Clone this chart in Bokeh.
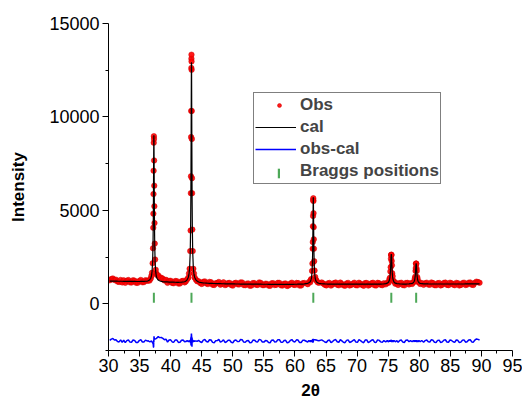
import numpy as np
from bokeh.plotting import figure
from bokeh.models import FixedTicker, Legend, LegendItem
from bokeh.embed import file_html
from bokeh.resources import INLINE

# ---- background regions (2theta, calculated, observed) ----
bg_theta = [30.2, 30.45, 30.7, 30.95, 31.2, 31.45, 31.7, 31.95, 32.2, 32.45, 32.7, 32.95, 33.2,
            33.45, 33.7, 33.95, 34.2, 34.45, 34.7, 34.95, 35.2, 35.45, 35.7, 35.95, 36.2,
            38.5, 38.75, 39.0, 39.25, 39.5, 39.75, 40.0, 40.25, 40.5, 40.75, 41.0, 41.25, 41.5,
            41.75, 42.0, 42.25,
            44.5, 44.75, 45.0, 45.25, 45.5, 45.75, 46.0, 46.25, 46.5, 46.75, 47.0, 47.25, 47.5,
            47.75, 48.0, 48.25, 48.5, 48.75, 49.0, 49.25, 49.5, 49.75, 50.0, 50.25, 50.5, 50.75,
            51.0, 51.25, 51.5, 51.75, 52.0, 52.25, 52.5, 52.75, 53.0, 53.25, 53.5, 53.75, 54.0,
            54.25, 54.5, 54.75, 55.0, 55.25, 55.5, 55.75, 56.0, 56.25, 56.5, 56.75, 57.0, 57.25,
            57.5, 57.75, 58.0, 58.25, 58.5, 58.75, 59.0, 59.25, 59.5, 59.75, 60.0, 60.25, 60.5,
            60.75, 61.0, 61.25, 61.5,
            64.3, 64.55, 64.8, 65.05, 65.3, 65.55, 65.8, 66.05, 66.3, 66.55, 66.8, 67.05, 67.3,
            67.55, 67.8, 68.05, 68.3, 68.55, 68.8, 69.05, 69.3, 69.55, 69.8, 70.05, 70.3, 70.55,
            70.8, 71.05, 71.3, 71.55, 71.8, 72.05, 72.3, 72.55, 72.8, 73.05, 73.3, 73.55, 73.8,
            74.05, 74.3,
            76.6, 76.85, 77.1, 77.35, 77.6, 77.85, 78.1, 78.35,
            80.7, 80.95, 81.2, 81.45, 81.7, 81.95, 82.2, 82.45, 82.7, 82.95, 83.2, 83.45, 83.7,
            83.95, 84.2, 84.45, 84.7, 84.95, 85.2, 85.45, 85.7, 85.95, 86.2, 86.45, 86.7, 86.95,
            87.2, 87.45, 87.7, 87.95, 88.2, 88.45, 88.7, 88.95, 89.2, 89.45, 89.7]
bg_cal = [1215, 1214, 1212, 1211, 1210, 1208, 1207, 1206, 1205, 1203, 1202, 1201, 1200,
          1198, 1197, 1196, 1195, 1194, 1193, 1193, 1195, 1197, 1200, 1206, 1215,
          1195, 1185, 1177, 1172, 1168, 1164, 1160, 1157, 1155, 1152, 1150, 1150, 1152,
          1157, 1165, 1180,
          1165, 1145, 1130, 1120, 1112, 1106, 1100, 1096, 1092, 1088, 1085, 1082, 1080,
          1077, 1075, 1073, 1071, 1069, 1068, 1066, 1065, 1063, 1062, 1061, 1060, 1059,
          1058, 1057, 1056, 1055, 1054, 1053, 1052, 1051, 1050, 1050, 1049, 1048, 1048,
          1047, 1047, 1046, 1046, 1045, 1045, 1044, 1044, 1043, 1043, 1043, 1043, 1042,
          1042, 1042, 1042, 1042, 1042, 1042, 1042, 1042, 1043, 1044, 1045, 1046, 1048,
          1050, 1053, 1057, 1062,
          1072, 1066, 1062, 1059, 1057, 1055, 1054, 1053, 1052, 1051, 1050, 1050, 1049,
          1049, 1048, 1048, 1048, 1048, 1047, 1047, 1047, 1047, 1047, 1047, 1047, 1047,
          1047, 1047, 1048, 1048, 1048, 1049, 1049, 1050, 1050, 1051, 1052, 1054, 1056,
          1059, 1063,
          1072, 1065, 1060, 1057, 1056, 1057, 1060, 1066,
          1070, 1066, 1063, 1061, 1060, 1059, 1059, 1058, 1058, 1058, 1058, 1058, 1058,
          1058, 1058, 1058, 1058, 1058, 1058, 1058, 1059, 1059, 1059, 1059, 1060, 1060,
          1060, 1061, 1061, 1062, 1062, 1063, 1063, 1064, 1064, 1065, 1065]
bg_obs = [1260, 1324, 1352, 1271, 1290, 1188, 1167, 1276, 1145, 1253, 1122, 1231, 1270,
          1148, 1137, 1256, 1235, 1124, 1123, 1223, 1275, 1152, 1160, 1261, 1230,
          1390, 1335, 1250, 1282, 1120, 1224, 1230, 1117, 1100, 1217, 1210, 1080, 1090,
          1207, 1230, 1145,
          1205, 1115, 1060, 1175, 1197, 1086, 1055, 1171, 1152, 1023, 1005, 1102, 1110,
          1167, 1020, 1063, 1146, 999, 1033, 1111, 1115, 1003, 972, 1096, 1125, 1044,
          1033, 1142, 1136, 1005, 994, 1078, 1087, 966, 975, 1110, 1104, 1018, 1008,
          1142, 1117, 1001, 996, 1075, 1065, 974, 959, 1093, 1103, 1003, 1013, 1122,
          1117, 987, 977, 1077, 1087, 952, 987, 1082, 1128, 1024, 1005, 1116, 1108,
          975, 983, 1102, 1112,
          1142, 1086, 1017, 984, 1092, 1115, 974, 1033, 1107, 1136, 1020, 990, 1134,
          1064, 988, 968, 1088, 1118, 977, 1012, 1072, 1127, 997, 987, 1127, 1077,
          1012, 962, 1108, 1113, 973, 1024, 1094, 1125, 995, 981, 1122, 1094, 1016,
          994, 1093,
          1012, 1105, 1125, 1007, 986, 1112, 1120, 1036,
          1015, 1096, 1128, 1026, 1015, 1139, 1109, 998, 988, 1098, 1113, 983, 1018,
          1113, 1133, 1013, 998, 1128, 1093, 1028, 994, 1119, 1104, 979, 1010, 1105,
          1130, 1006, 1026, 1127, 1137, 1023, 1008, 1124, 1184, 1160, 1125]

# ---- peak regions ----
peak_theta = [36.4, 36.6, 36.8, 36.9, 37.0, 37.1, 37.16, 37.2, 37.22, 37.24, 37.26, 37.28, 37.30,
              37.32, 37.34, 37.36, 37.38, 37.40, 37.44, 37.5, 37.6, 37.7, 37.8, 38.0, 38.2,
              42.45, 42.65, 42.85, 42.95, 43.05, 43.15, 43.21, 43.25, 43.27, 43.29, 43.31, 43.33,
              43.34, 43.35, 43.36, 43.37, 43.39, 43.41, 43.43, 43.45, 43.49, 43.55, 43.65, 43.75,
              43.85, 44.05, 44.25,
              62.05, 62.25, 62.45, 62.55, 62.65, 62.75, 62.81, 62.85, 62.87, 62.89, 62.91, 62.93,
              62.95, 62.97, 62.99, 63.01, 63.03, 63.05, 63.09, 63.15, 63.25, 63.35, 63.45, 63.65,
              63.85,
              74.6, 74.85, 75.05, 75.2, 75.28, 75.35, 75.4, 75.44, 75.47, 75.5, 75.53, 75.56,
              75.6, 75.65, 75.72, 75.8, 75.95, 76.15, 76.4,
              78.6, 78.85, 79.05, 79.2, 79.28, 79.35, 79.4, 79.44, 79.47, 79.5, 79.53, 79.56,
              79.6, 79.65, 79.72, 79.8, 79.95, 80.15, 80.4]
peak_cal = [1231, 1271, 1366, 1472, 1691, 2253, 3101, 4232, 5095, 6194, 7450, 8557, 9020,
            8557, 7450, 6194, 5095, 4232, 3101, 2253, 1691, 1472, 1366, 1271, 1231,
            1222, 1282, 1425, 1584, 1913, 2757, 4030, 5728, 7025, 8676, 10562, 12224,
            12743, 12920, 12743, 12224, 10562, 8676, 7025, 5728, 4030, 2757, 1913, 1584,
            1425, 1282, 1222,
            1096, 1120, 1176, 1239, 1368, 1700, 2201, 2870, 3380, 4030, 4772, 5426,
            5700, 5426, 4772, 4030, 3380, 2870, 2201, 1700, 1368, 1239, 1176, 1120,
            1096,
            1078, 1103, 1157, 1272, 1419, 1678, 2000, 2338, 2565, 2660, 2565, 2338,
            2000, 1678, 1419, 1272, 1157, 1103, 1078,
            1074, 1092, 1129, 1208, 1309, 1488, 1710, 1943, 2100, 2165, 2100, 1943,
            1710, 1488, 1309, 1208, 1129, 1092, 1074]
peak_obs = [1250, 1240, 1350, 1490, 1660, 2170, 2970, 4070, 4820, 5870, 7120, 8620, 8970,
            8820, 7670, 6320, 5220, 4320, 3220, 2370, 1820, 1620, 1540, 1520, 1420,
            1200, 1310, 1400, 1620, 1870, 2820, 3920, 5920, 6820, 8920, 10320, 12620,
            13120, 13330, 12970, 12520, 10320, 8820, 6720, 5920, 3970, 2820, 1870, 1620,
            1410, 1300, 1210,
            1050, 1160, 1150, 1280, 1330, 1760, 2150, 2950, 3300, 4150, 4700, 5550,
            5650, 5500, 4850, 4100, 3450, 2950, 2280, 1780, 1440, 1300, 1240, 1150,
            1120,
            1040, 1130, 1120, 1310, 1390, 1730, 1960, 2410, 2610, 2630, 2610, 2290,
            2060, 1630, 1470, 1240, 1190, 1070, 1100,
            1100, 1060, 1160, 1180, 1350, 1450, 1760, 1910, 2150, 2150, 2130, 1890,
            1760, 1440, 1350, 1170, 1170, 1060, 1110]

bragg_positions = [37.3, 43.35, 62.95, 75.5, 79.5]
bragg_level = 320
diff_offset = -2000

y_major = [0, 5000, 10000, 15000]
y_minor = [-2500, 2500, 7500, 12500]
x_major = [30, 35, 40, 45, 50, 55, 60, 65, 70, 75, 80, 85, 90, 95]
x_minor = [32.5, 37.5, 42.5, 47.5, 52.5, 57.5, 62.5, 67.5, 72.5, 77.5, 82.5, 87.5, 92.5]

# ---- assemble ----
theta = np.array(bg_theta + peak_theta, dtype=float)
cal = np.array(bg_cal + peak_cal, dtype=float)
obs = np.array(bg_obs + peak_obs, dtype=float)
order = np.argsort(theta)
theta, cal, obs = theta[order], cal[order], obs[order]
diff = obs - cal + diff_offset

FONT = "Liberation Sans"
RED = "#ff0000"
GREEN = "#3a9e46"
BLUE = "#0000ff"

p = figure(width=522, height=406, x_range=(30, 95), y_range=(-2500, 15000),
           output_backend="svg", toolbar_location=None,
           min_border_left=108, min_border_right=10, min_border_top=23, min_border_bottom=56)
p.outline_line_color = None
p.grid.visible = False
p.background_fill_color = "white"
p.border_fill_color = "white"

r_obs = p.scatter(theta, obs, size=5.5, fill_color=RED, line_color="#d00000",
                  line_alpha=0.5, fill_alpha=0.9)
r_cal = p.line(theta, cal, line_color="black", line_width=1.2)
r_diff = p.line(theta, diff, line_color=BLUE, line_width=1.5)
r_bragg = p.rect(x=bragg_positions, y=[bragg_level] * len(bragg_positions),
                 width=2, height=10, width_units="screen", height_units="screen",
                 fill_color=GREEN, fill_alpha=0.9, line_color=None)

# empty renderer: keeps a blank key slot in the main legend
r_blank = p.scatter([], [], line_alpha=0, fill_alpha=0)

for ax, ticks, minor in ((p.xaxis[0], x_major, x_minor), (p.yaxis[0], y_major, y_minor)):
    ax.ticker = FixedTicker(ticks=ticks, minor_ticks=minor)
    ax.axis_line_color = "black"
    ax.major_tick_line_color = "black"
    ax.minor_tick_line_color = "black"
    ax.major_tick_in = 0
    ax.major_tick_out = 6
    ax.minor_tick_in = 0
    ax.minor_tick_out = 3
    ax.major_label_text_font = FONT
    ax.major_label_text_font_size = "18px"
    ax.major_label_text_color = "black"
    ax.axis_label_text_font = FONT
    ax.axis_label_text_font_size = "17px"
    ax.axis_label_text_font_style = "bold"
    ax.axis_label_text_color = "black"

p.yaxis.axis_label = "Intensity"
p.xaxis.axis_label = "2θ"
p.yaxis.major_label_standoff = 3
p.xaxis.major_label_standoff = 2
p.yaxis.axis_label_standoff = 18
p.xaxis.axis_label_standoff = 6

legend = Legend(items=[
    LegendItem(label="Obs", renderers=[r_blank]),
    LegendItem(label="cal", renderers=[r_cal]),
    LegendItem(label="obs-cal", renderers=[r_diff]),
    LegendItem(label="Braggs positions", renderers=[r_blank]),
], location=(145, 166))
legend.label_text_font = FONT
legend.label_text_font_size = "17px"
legend.label_text_font_style = "bold"
legend.border_line_color = "black"
legend.border_line_width = 1
legend.background_fill_alpha = 1
legend.padding = 1
legend.spacing = 0
legend.glyph_height = 22
legend.label_height = 22
legend.glyph_width = 41
legend.label_standoff = 4
legend.margin = 0
p.add_layout(legend)


def key_legend(renderer, w, h, loc):
    k = Legend(items=[LegendItem(label=" ", renderers=[renderer])], location=loc)
    k.padding = 0
    k.margin = 0
    k.spacing = 0
    k.glyph_width = w
    k.glyph_height = h
    k.label_height = h
    k.label_width = 0
    k.label_standoff = 0
    k.label_text_font_size = "1px"
    k.border_line_color = None
    k.background_fill_alpha = 0
    return k


p.add_layout(key_legend(r_obs, 10, 10, (166, 240)))
p.add_layout(key_legend(r_bragg, 3, 12, (169, 171)))

open("out.html", "w").write(file_html(p, INLINE))
